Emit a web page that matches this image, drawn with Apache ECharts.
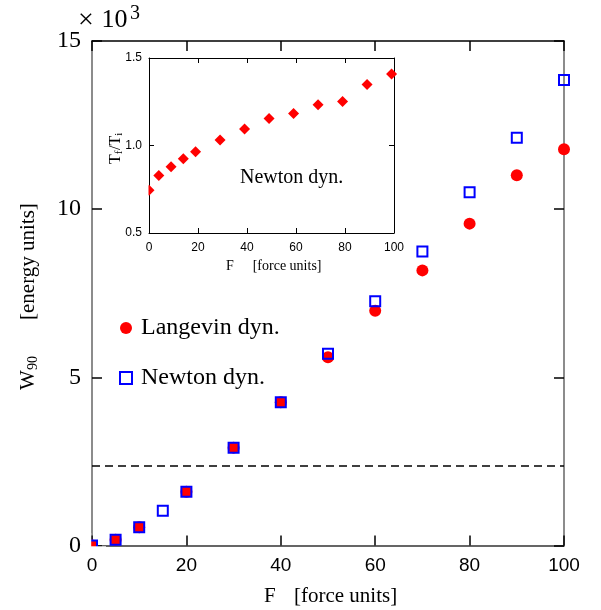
<!DOCTYPE html>
<html>
<head>
<meta charset="utf-8">
<script src="https://cdn.jsdelivr.net/npm/echarts@6/dist/echarts.min.js"></script>
<style>
html,body{margin:0;padding:0;background:#fff;}
#chart{width:601px;height:610px;}
</style>
</head>
<body>
<div id="chart"></div>
<script>
// ---- data ----
const langevinF = [0, 5, 10, 20, 30, 40, 50, 60, 70, 80, 90, 100];
const langevinW = [0, 0.17, 0.54, 1.60, 2.91, 4.26, 5.60, 6.98, 8.18, 9.57, 11.01, 11.78];
const newtonF = [0, 5, 10, 15, 20, 30, 40, 50, 60, 70, 80, 90, 100];
const newtonW = [0, 0.17, 0.54, 1.03, 1.60, 2.91, 4.26, 5.70, 7.26, 8.74, 10.50, 12.12, 13.84];
const thresholdW = 2.38;
const insetF = [0, 4, 9, 14, 19, 29, 39, 49, 59, 69, 79, 89, 99];
const insetRatio = [0.744, 0.828, 0.878, 0.925, 0.965, 1.031, 1.094, 1.154, 1.183, 1.233, 1.252, 1.349, 1.408];
const mainXTicks = [0, 20, 40, 60, 80, 100];
const mainYTicks = [0, 5, 10, 15];
const insetXTicks = [0, 20, 40, 60, 80, 100];
const insetYTickLabels = ['0.5', '1.0', '1.5'];
const seriesNames = ['Langevin dyn.', 'Newton dyn.'];

const SERIF = '"Liberation Serif", "Times New Roman", serif';
const SANS = '"Liberation Sans", Arial, sans-serif';

function pairs(xs, ys) { return xs.map((x, i) => [x, ys[i]]); }

const chart = echarts.init(document.getElementById('chart'), null, {renderer: 'canvas'});

function xAx(grid, pos, ticks, tickLen, lineColor, lineW, label) {
  return {
    type: 'value', gridIndex: grid, position: pos,
    min: ticks[0], max: ticks[ticks.length - 1], interval: ticks[1] - ticks[0],
    axisLine: {show: true, onZero: false, lineStyle: {color: lineColor, width: lineW}},
    axisTick: {show: true, inside: true, length: tickLen, lineStyle: {color: '#000', width: lineW}},
    splitLine: {show: false},
    axisLabel: label || {show: false}
  };
}

const insetYMin = parseFloat(insetYTickLabels[0]);
const insetYMax = parseFloat(insetYTickLabels[insetYTickLabels.length - 1]);
const insetYStep = parseFloat(insetYTickLabels[1]) - insetYMin;

function yAx(grid, pos, min, max, step, tickLen, lineColor, lineW, label) {
  return {
    type: 'value', gridIndex: grid, position: pos,
    min: min, max: max, interval: step,
    axisLine: {show: true, onZero: false, lineStyle: {color: lineColor, width: lineW}},
    axisTick: {show: true, inside: true, length: tickLen, lineStyle: {color: '#000', width: lineW}},
    splitLine: {show: false},
    axisLabel: label || {show: false}
  };
}

const option = {
  animation: false,
  backgroundColor: '#fff',
  grid: [
    {left: 92, top: 41, width: 472, height: 504.5, containLabel: false, outerBoundsMode: 'none', show: false},
    {left: 149, top: 58, width: 245, height: 175, containLabel: false, outerBoundsMode: 'none',
     show: true, backgroundColor: '#fff', borderWidth: 0}
  ],
  xAxis: [
    xAx(0, 'bottom', mainXTicks, 10, '#333', 1.5,
      {show: true, margin: 11, fontFamily: SANS, fontSize: 19, color: '#000'}),
    xAx(0, 'top', mainXTicks, 10, '#000', 1.5),
    xAx(1, 'bottom', insetXTicks, 5, '#000', 1,
      {show: true, margin: 9, fontFamily: SANS, fontSize: 12, color: '#000'}),
    xAx(1, 'top', insetXTicks, 5, '#000', 1)
  ],
  yAxis: [
    yAx(0, 'left', mainYTicks[0], mainYTicks[mainYTicks.length - 1], mainYTicks[1] - mainYTicks[0], 10, '#666', 1.5,
      {show: true, margin: 11, fontFamily: SERIF, fontSize: 24, color: '#000'}),
    yAx(0, 'right', mainYTicks[0], mainYTicks[mainYTicks.length - 1], mainYTicks[1] - mainYTicks[0], 10, '#666', 1.5),
    yAx(1, 'left', insetYMin, insetYMax, insetYStep, 5, '#000', 1,
      {show: true, margin: 7, fontFamily: SANS, fontSize: 12, color: '#000',
       formatter: function (v) {
         const i = Math.round((v - insetYMin) / insetYStep);
         return insetYTickLabels[i] !== undefined ? insetYTickLabels[i] : v.toFixed(1);
       }}),
    yAx(1, 'right', insetYMin, insetYMax, insetYStep, 5, '#000', 1)
  ],
  legend: {
    show: true,
    orient: 'vertical',
    left: 114, top: 311, padding: 5,
    itemWidth: 12, itemHeight: 12, itemGap: 26,
    selectedMode: false,
    data: [
      {name: seriesNames[0], icon: 'circle'},
      {name: seriesNames[1], icon: 'rect'}
    ],
    textStyle: {fontFamily: SERIF, fontSize: 24, color: '#000', padding: [0, 0, 0, 4]}
  },
  series: [
    {
      name: seriesNames[0], type: 'scatter', xAxisIndex: 0, yAxisIndex: 0,
      symbol: 'circle', symbolSize: 12, z: 2,
      itemStyle: {color: '#ff0000', opacity: 1},
      data: pairs(langevinF, langevinW),
      markLine: {
        silent: true, symbol: ['none', 'none'], label: {show: false},
        lineStyle: {type: [8, 5], color: '#000', width: 1.5},
        emphasis: {disabled: true},
        data: [{yAxis: thresholdW}]
      }
    },
    {
      name: seriesNames[1], type: 'scatter', xAxisIndex: 0, yAxisIndex: 0,
      symbol: 'rect', symbolSize: 10, z: 3,
      itemStyle: {color: 'rgba(255,255,255,0)', borderColor: '#0000ff', borderWidth: 2, opacity: 1},
      data: pairs(newtonF, newtonW)
    },
    {
      name: 'inset', type: 'scatter', xAxisIndex: 2, yAxisIndex: 2,
      symbol: 'diamond', symbolSize: 11, z: 4,
      itemStyle: {color: '#ff0000', opacity: 1},
      data: pairs(insetF, insetRatio)
    }
  ],
  graphic: [
    // masks so markers are clipped to the plot frames like the reference
    {type: 'rect', z: 100, silent: true, shape: {x: 84, y: 533, width: 7.2, height: 22}, style: {fill: '#fff'}},
    {type: 'rect', z: 100, silent: true, shape: {x: 84, y: 546.3, width: 22, height: 8}, style: {fill: '#fff'}},
    {type: 'rect', z: 100, silent: true, shape: {x: 141, y: 183, width: 7.5, height: 15}, style: {fill: '#fff'}},
    // × 10^3 multiplier
    {type: 'text', x: 78, y: 20.5, z: 100, style: {text: '×', font: '28px ' + SERIF, fill: '#000', textAlign: 'left', textVerticalAlign: 'middle', verticalAlign: 'middle'}},
    {type: 'text', x: 101.5, y: 20.5, z: 100, style: {text: '10', font: '26px ' + SERIF, fill: '#000', textAlign: 'left', textVerticalAlign: 'middle', verticalAlign: 'middle'}},
    {type: 'text', x: 130, y: 14, z: 100, style: {text: '3', font: '20px ' + SERIF, fill: '#000', textAlign: 'left', textVerticalAlign: 'middle', verticalAlign: 'middle'}},
    // main x axis name
    {type: 'text', x: 264, y: 596, z: 100, style: {text: 'F', font: '21px ' + SERIF, fill: '#000', textAlign: 'left', textVerticalAlign: 'middle', verticalAlign: 'middle'}},
    {type: 'text', x: 294, y: 596, z: 100, style: {text: '[force units]', font: '21px ' + SERIF, fill: '#000', textAlign: 'left', textVerticalAlign: 'middle', verticalAlign: 'middle'}},
    // main y axis name (rotated)
    {type: 'group', x: 36, y: 390, rotation: Math.PI / 2, z: 100, children: [
      {type: 'text', x: 0, y: -7.1, style: {text: 'W', font: '21px ' + SERIF, fill: '#000', textAlign: 'left', textVerticalAlign: 'middle', verticalAlign: 'middle'}},
      {type: 'text', x: 20, y: -2.7, style: {text: '90', font: '14px ' + SERIF, fill: '#000', textAlign: 'left', textVerticalAlign: 'middle', verticalAlign: 'middle'}},
      {type: 'text', x: 70, y: -7.1, style: {text: '[energy units]', font: '21px ' + SERIF, fill: '#000', textAlign: 'left', textVerticalAlign: 'middle', verticalAlign: 'middle'}}
    ]},
    // inset x axis name
    {type: 'text', x: 226, y: 266.3, z: 100, style: {text: 'F', font: '14px ' + SERIF, fill: '#000', textAlign: 'left', textVerticalAlign: 'middle', verticalAlign: 'middle'}},
    {type: 'text', x: 252.7, y: 266.3, z: 100, style: {text: '[force units]', font: '14px ' + SERIF, fill: '#000', textAlign: 'left', textVerticalAlign: 'middle', verticalAlign: 'middle'}},
    // inset y axis name (rotated)
    {type: 'group', x: 121, y: 164, rotation: Math.PI / 2, z: 100, children: [
      {type: 'text', x: 0, y: -5.5, style: {text: 'T', font: '16px ' + SERIF, fill: '#000', textAlign: 'left', textVerticalAlign: 'middle', verticalAlign: 'middle'}},
      {type: 'text', x: 9.8, y: -1.5, style: {text: 'f', font: '11px ' + SERIF, fill: '#000', textAlign: 'left', textVerticalAlign: 'middle', verticalAlign: 'middle'}},
      {type: 'text', x: 14, y: -5.5, style: {text: '/', font: '16px ' + SERIF, fill: '#000', textAlign: 'left', textVerticalAlign: 'middle', verticalAlign: 'middle'}},
      {type: 'text', x: 18.5, y: -5.5, style: {text: 'T', font: '16px ' + SERIF, fill: '#000', textAlign: 'left', textVerticalAlign: 'middle', verticalAlign: 'middle'}},
      {type: 'text', x: 28.3, y: -1.5, style: {text: 'i', font: '11px ' + SERIF, fill: '#000', textAlign: 'left', textVerticalAlign: 'middle', verticalAlign: 'middle'}}
    ]},
    // inset annotation
    {type: 'text', x: 291.7, y: 177.3, z: 100, style: {text: 'Newton dyn.', font: '20px ' + SERIF, fill: '#000', textAlign: 'center', textVerticalAlign: 'middle', verticalAlign: 'middle'}}
  ]
};

chart.setOption(option);
</script>
</body>
</html>
